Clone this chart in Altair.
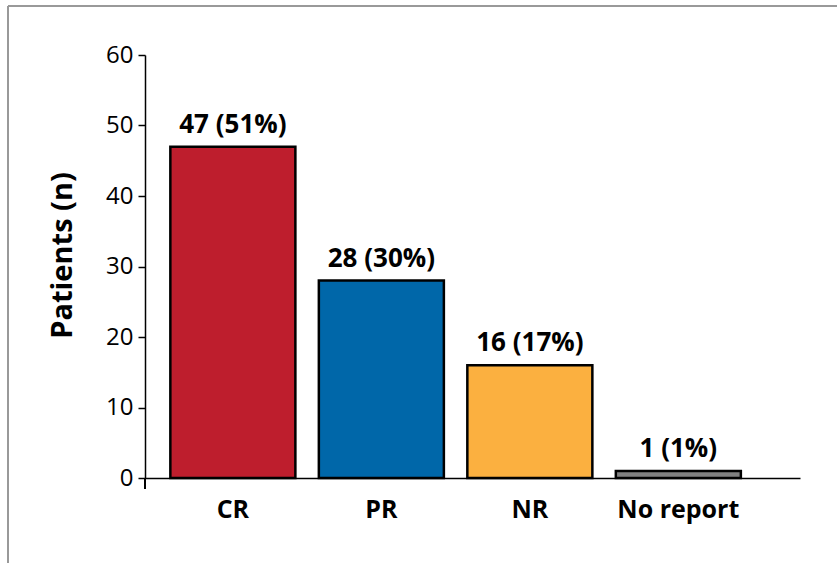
import altair as alt
import pandas as pd

# Response categories and patient counts
categories = ["CR", "PR", "NR", "No report"]
patients = [47, 28, 16, 1]
percents = [51, 30, 17, 1]
colors = ["#BE1E2D", "#0067A9", "#FBB040", "#808080"]

df = pd.DataFrame({
    "category": categories,
    "patients": patients,
    "label": [f"{n} ({p}%)" for n, p in zip(patients, percents)],
})

FONT = "Open Sans"
W, H = 655, 423

x = alt.X(
    "category:N",
    sort=categories,
    title=None,
    scale=alt.Scale(paddingInner=0.158, paddingOuter=0.2845, align=0.3),
    axis=alt.Axis(
        labelAngle=0, labelFont=FONT, labelFontSize=25, labelFontWeight="bold",
        labelColor="black", labelPadding=19, ticks=False,
        domainColor="black", domainWidth=1.5,
    ),
)

bars = alt.Chart(df).mark_bar(stroke="black", strokeWidth=2.5).encode(
    x=x,
    y=alt.Y(
        "patients:Q",
        title="Patients (n)",
        scale=alt.Scale(domain=[0, 60], nice=False),
        axis=alt.Axis(
            values=[0, 10, 20, 30, 40, 50, 60], grid=False,
            labelFont=FONT, labelFontSize=24, labelColor="black", labelPadding=5,
            tickColor="black", tickSize=7, tickWidth=1.5,
            domainColor="black", domainWidth=1.5,
            titleFont=FONT, titleFontSize=29, titleFontWeight="bold",
            titleColor="black", titleAngle=270, titleBaseline="middle",
            titleAlign="center", titleX=-83, titleY=200,
        ),
    ),
    color=alt.Color("category:N", sort=categories,
                    scale=alt.Scale(domain=categories, range=colors), legend=None),
)

labels = alt.Chart(df).mark_text(
    font=FONT, fontSize=26, fontWeight="bold", color="black",
    baseline="alphabetic", dy=-14,
).encode(
    x=alt.X("category:N", sort=categories),
    y="patients:Q",
    text="label:N",
)

# y-axis line continuing below the baseline, plus the outer frame lines
axis_ext = alt.Chart(df).mark_rule(color="black", strokeWidth=1.5).encode(
    x=alt.value(0), y=alt.value(H), y2=alt.value(H + 11)
)
frame_top = alt.Chart(df).mark_rule(color="#999999", strokeWidth=2).encode(
    x=alt.value(-137), x2=alt.value(W + 40), y=alt.value(-49)
)
frame_left = alt.Chart(df).mark_rule(color="#999999", strokeWidth=2).encode(
    x=alt.value(-137), y=alt.value(-49), y2=alt.value(H + 90)
)

chart = alt.layer(bars, labels, axis_ext, frame_top, frame_left).properties(
    width=W, height=H,
    autosize=alt.AutoSizeParams(type="none"),
    padding={"left": 145, "top": 55, "right": 37, "bottom": 85},
).configure_view(stroke=None)

chart.save("out.html", embed_options={"renderer": "svg", "actions": False})
